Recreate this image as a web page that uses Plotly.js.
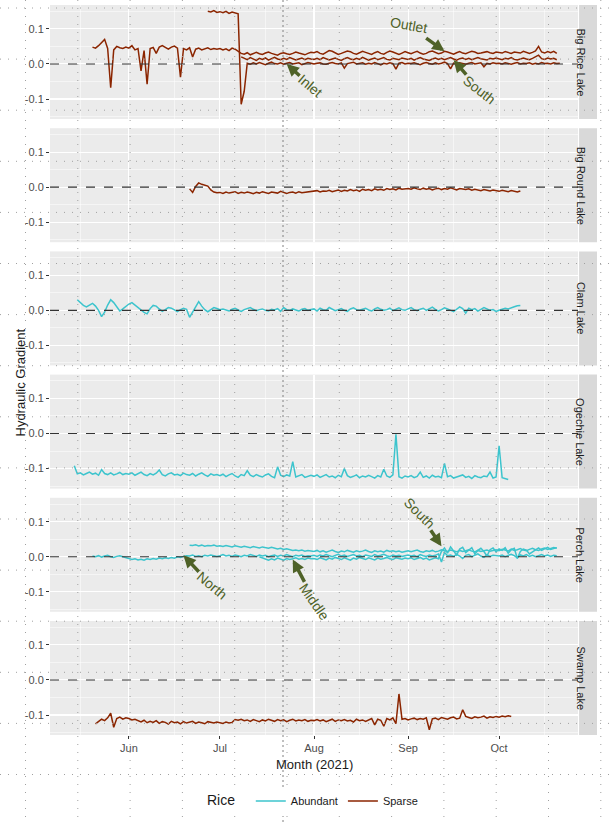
<!DOCTYPE html>
<html>
<head>
<meta charset="utf-8">
<script src="https://cdn.plot.ly/plotly-3.0.1.min.js"></script>
<style>
  html, body { margin: 0; padding: 0; background: #fff; }
  #chart { width: 610px; height: 822px; }
</style>
</head>
<body>
<div id="chart"></div>
<script>
// Lakes (facet strips, top to bottom)
let lakes = ["Big Rice Lake", "Big Round Lake", "Clam Lake", "Ogechie Lake", "Perch Lake", "Swamp Lake"];
let riceLevels = ["Abundant", "Sparse"];
let monthTicks = ["Jun", "Jul", "Aug", "Sep", "Oct"];

// Daily readings, hydraulic gradient in thousandths
// Big Rice Lake (Sparse)
let bigRiceOutletStart = "2021-05-20";
let bigRiceOutlet = [48,45,52,62,70,44,-68,40,50,46,44,48,
  45,52,40,44,-20,38,-58,44,47,30,48,52,46,42,48,51,45,-38,44,40,46,20,42,45,40,43,46,41,44,42,
  44,40,43,38,45,42,35,30,28,32,26,30,33,29,27,31,34,30,28,25,30,32,29,27,30,34,31,28,26,30,33,
  32,35,30,28,33,38,36,31,27,30,34,37,35,30,28,31,36,33,29,27,32,35,30,28,33,37,34,30,27,31,35,
  32,29,33,36,31,28,30,35,37,33,29,31,36,34,30,28,32,35,31,29,33,36,34,30,31,33,35,32,30,34,
  33,31,35,32,30,34,33,31,36,32,30,33,37,50,34,31,35,32,36,30];
let bigRiceInletStart = "2021-06-27";
let bigRiceInlet = [150,148,152,147,149,146,150,144,148,145,143,-115,-78,
  2,-1,3,0,4,1,-2,2,5,1,0,3,-1,2,4,0,1,3,-2,1,4,2,0,
  2,3,0,-1,2,4,1,0,3,-12,1,2,5,0,1,3,-1,2,0,4,1,-3,2,0,3,1,-15,2,4,0,2,
  1,3,0,-2,2,4,1,-1,3,0,2,5,1,-14,2,0,3,1,-1,2,4,0,1,3,-8,2,0,3,1,2,
  0,3,1,-1,2,4,0,2,1,3,-1,2,0,4,1,2,0,3,1,2];
let bigRiceSouthStart = "2021-07-08";
let bigRiceSouth = [20,15,12,18,14,10,16,13,17,11,15,19,14,12,16,13,18,15,11,14,17,12,16,14,
  13,16,12,18,15,11,14,17,13,10,15,18,14,12,16,13,19,15,11,14,17,12,15,18,13,11,16,14,12,17,15,
  13,16,11,15,18,14,12,10,14,17,13,16,12,15,18,14,11,15,17,13,16,12,14,18,15,13,11,16,14,17,
  15,12,16,14,18,13,11,15,17,14,12,16,20,25,15,13,17,14,16,12];

// Big Round Lake (Sparse)
let bigRoundStart = "2021-06-21";
let bigRound = [-5,-15,2,12,8,5,3,-8,-14,-16,
  -15,-18,-14,-17,-16,-13,-18,-15,-17,-14,-16,-19,-15,-17,-13,-16,-18,-14,-15,-17,-12,-16,-18,-15,-14,-17,-13,-16,-15,-14,-12,
  -13,-10,-14,-11,-12,-9,-13,-10,-8,-12,-9,-11,-7,-10,-8,-12,-6,-9,-7,-10,-5,-8,-6,-9,-4,-7,-5,-8,-3,-6,-5,
  -4,-6,-2,-5,-7,-3,-6,-4,-8,-5,-3,-7,-4,-6,-2,-5,-8,-4,-6,-7,-5,-9,-6,-8,-10,-7,-9,-11,-8,-10,
  -12,-9,-11,-13,-10,-12,-14,-11];

// Clam Lake (Abundant)
let clamStart = "2021-05-15";
let clam = [30,22,14,10,16,20,12,0,-18,-5,15,30,22,8,-2,4,12,
  18,22,15,8,2,-6,-10,5,14,12,4,-3,2,8,6,0,-4,2,6,3,-20,-5,10,25,12,2,-4,3,8,5,
  2,4,0,-2,3,6,1,-3,2,5,8,3,-1,2,4,0,-2,3,1,5,-3,8,2,0,4,1,-2,3,5,0,2,
  4,-2,6,2,0,8,3,-1,2,5,0,-3,4,7,2,0,3,6,1,-2,4,8,3,0,2,6,-1,3,7,2,0,
  4,8,2,-1,3,6,0,4,9,3,-2,2,7,4,0,-4,3,10,5,-8,6,2,5,-2,3,8,4,0,2,-3,
  0,3,6,4,8,10,13,14];

// Ogechie Lake (Abundant)
let ogechieStart = "2021-05-14";
let ogechie = [-92,-115,-112,-118,-114,-110,-116,-113,-119,-103,-114,-117,-112,-118,-115,-111,-117,-114,
  -116,-112,-119,-115,-110,-117,-120,-114,-118,-113,-104,-117,-121,-115,-112,-118,-116,-120,-113,-117,-119,-114,-121,-116,-112,-118,-122,-115,-119,-117,
  -120,-116,-123,-118,-114,-121,-125,-117,-120,-106,-119,-123,-117,-121,-124,-118,-115,-122,-126,-95,-119,-123,-118,-121,-80,-124,-120,-117,-125,-121,-119,
  -122,-118,-125,-120,-117,-124,-121,-126,-119,-123,-100,-120,-125,-122,-118,-126,-121,-124,-119,-123,-127,-120,-124,-102,-121,-125,-118,-2,-123,-127,-121,
  -124,-120,-126,-122,-110,-125,-121,-127,-119,-124,-122,-126,-85,-123,-120,-127,-124,-121,-118,-125,-122,-128,-120,-124,-126,-121,-123,-110,-127,-124,
  -35,-126,-129,-131];

// Perch Lake (Abundant)
let perchNorthStart = "2021-05-20";
let perchNorth = [2,0,3,-1,2,4,0,-2,1,3,0,-3,
  -5,-8,-6,-9,-7,-10,-6,-8,-5,-7,-4,-6,-3,-5,-2,-4,0,-2,1,3,2,5,1,3,0,4,2,5,3,1,
  3,6,2,4,1,5,3,0,4,2,6,3,1,5,2,4,0,3,5,1,4,2,6,3,0,4,2,5,1,3,2,
  4,1,5,2,6,3,0,4,7,2,5,1,3,6,2,4,0,5,3,1,6,2,4,7,3,0,5,2,4,1,3,
  5,2,4,0,6,3,1,5,2,4,8,-15,12,3,5,1,7,2,-5,4,6,0,3,8,2,-2,5,1,4,3,
  2,5,0,4,7,3,-3,5,2,6,1,4,0,3,6,2,5,1,4,3];
let perchMiddleStart = "2021-06-21";
let perchMiddle = [33,32,34,31,33,30,32,31,33,30,
  31,29,32,30,28,31,29,27,30,28,26,29,27,25,28,26,24,27,25,22,24,21,23,20,18,19,17,19,16,18,17,
  15,18,14,17,13,16,19,15,12,16,14,18,15,13,17,14,16,19,15,12,17,14,16,13,18,15,17,14,16,13,15,
  17,14,16,19,15,13,17,15,18,14,16,20,17,15,19,16,14,18,15,17,20,16,14,18,15,17,19,16,18,20,
  17,21,19,16,22,18,20,23,19,17,21,24,20,18,22,25,21,23,26,24];
let perchSouthStart = "2021-07-14";
let perchSouth = [0,-3,-8,-10,-6,-9,-4,-7,-10,-5,-8,-6,-3,-7,-5,-8,-4,-6,
  -5,-8,-3,-6,-9,-4,-7,-2,-5,-8,-3,-6,-10,-4,-7,-2,-5,-8,-3,-6,-9,-4,-7,-5,-2,-6,-8,-3,-5,-7,-4,
  -6,-3,-8,-5,-2,-7,-4,-9,-5,-3,-6,
  15,25,10,28,18,5,22,27,12,20,26,8,18,24,15,2,20,25,14,
  22,18,26,10,20,24,-5,15,22,19,8,14,20,25,18,22,27,21,24,26];

// Swamp Lake (Sparse)
let swampStart = "2021-05-21";
let swamp = [-125,-118,-112,-116,-108,-95,-135,-110,-106,-112,-108,
  -110,-114,-112,-117,-120,-115,-122,-118,-121,-116,-124,-119,-121,-126,-118,-122,-120,-125,-119,-123,-121,-118,-124,-120,-122,-125,-119,-121,-123,-120,
  -122,-124,-120,-123,-121,-113,-115,-112,-116,-114,-118,-113,-116,-119,-114,-117,-112,-115,-118,-113,-116,-114,-119,-115,-112,-117,-114,-116,-113,-118,-115,
  -116,-113,-117,-114,-119,-115,-112,-118,-114,-116,-113,-117,-115,-120,-112,-116,-114,-118,-113,-110,-128,-112,-115,-132,-110,-114,-108,-125,-40,-112,-110,
  -114,-111,-109,-113,-110,-112,-108,-142,-111,-109,-113,-107,-110,-112,-108,-106,-111,-109,-85,-104,-107,-110,-105,-108,-106,-103,-109,-105,-107,-104,
  -106,-103,-105,-102,-104];

let colors = { Abundant: "#3CC4CD", Sparse: "#8B2500" };
let olive = "#4F6228";

// series: [lake index, rice, start, values]
let series = [
  [2, "Abundant", clamStart, clam],
  [3, "Abundant", ogechieStart, ogechie],
  [4, "Abundant", perchNorthStart, perchNorth],
  [4, "Abundant", perchMiddleStart, perchMiddle],
  [4, "Abundant", perchSouthStart, perchSouth],
  [0, "Sparse", bigRiceOutletStart, bigRiceOutlet],
  [0, "Sparse", bigRiceInletStart, bigRiceInlet],
  [0, "Sparse", bigRiceSouthStart, bigRiceSouth],
  [1, "Sparse", bigRoundStart, bigRound],
  [5, "Sparse", swampStart, swamp]
];

// logger readings are daily, so build the date column from the start day
function dailyDates(start, n) {
  let out = [];
  let d0 = new Date(start + "T00:00:00Z");
  for (let i = 0; i < n; i++) {
    let d = new Date(d0.getTime() + i * 86400000);
    out.push(d.toISOString().slice(0, 10));
  }
  return out;
}

let data = [];
let seen = {};
for (let i = 0; i < series.length; i++) {
  let s = series[i];
  let n = s[0] + 1;
  data.push({
    x: dailyDates(s[2], s[3].length),
    y: s[3].map(v => v / 1000),
    type: "scatter",
    mode: "lines",
    name: s[1],
    legendgroup: s[1],
    showlegend: !seen[s[1]],
    line: { color: colors[s[1]], width: 1.5 },
    xaxis: "x" + (n == 1 ? "" : n),
    yaxis: "y" + (n == 1 ? "" : n),
    hoverinfo: "skip"
  });
  seen[s[1]] = true;
}

// page geometry (pixels)
let W = 610, H = 822;
let mL = 50, mR = 32, mT = 5, mB = 87;
let plotW = W - mL - mR, plotH = H - mT - mB;
let panelH = 114;
let gap = (plotH - 6 * panelH) / 5;

let layout = {
  width: W, height: H,
  margin: { l: mL, r: mR, t: mT, b: mB },
  paper_bgcolor: "#ffffff",
  plot_bgcolor: "#EBEBEB",
  font: { family: "Liberation Sans, Arial, sans-serif", color: "#4D4D4D", size: 11 },
  showlegend: true,
  legend: {
    orientation: "h", x: 0.5, xanchor: "center", y: (H - mB - 801) / plotH, yanchor: "middle",
    title: { text: "Rice  ", side: "left", font: { size: 14, color: "#1A1A1A" } },
    font: { size: 11, color: "#1A1A1A" },
    itemwidth: 30
  },
  shapes: [],
  annotations: []
};

for (let i = 0; i < 6; i++) {
  let n = i + 1;
  let sfx = n == 1 ? "" : n;
  let topPx = mT + i * (panelH + gap);
  let y1 = (H - mB - topPx) / plotH;
  let y0 = (H - mB - topPx - panelH) / plotH;
  layout["xaxis" + sfx] = {
    type: "date",
    domain: [0, 1],
    anchor: "y" + sfx,
    matches: n == 1 ? undefined : "x",
    range: ["2021-05-06", "2021-10-27"],
    tick0: "2021-05-01", dtick: "M1", tickformat: "%b",
    showticklabels: i == 5,
    ticks: i == 5 ? "outside" : "",
    ticklen: 3, tickcolor: "#333333",
    tickfont: { size: 11, color: "#4D4D4D" },
    showgrid: true, gridcolor: "#ffffff", gridwidth: 1.1,
    minor: { tick0: "2021-05-16", dtick: "M1", showgrid: true, gridcolor: "#ffffff", gridwidth: 0.5 },
    zeroline: false, showline: false, fixedrange: true
  };
  layout["yaxis" + sfx] = {
    domain: [y0, y1],
    anchor: "x" + sfx,
    range: [-0.157, 0.168],
    tickvals: [-0.1, 0, 0.1],
    ticktext: ["-0.1", "0.0", "0.1"],
    ticks: "outside", ticklen: 3, tickcolor: "#333333",
    tickfont: { size: 11, color: "#4D4D4D" },
    showgrid: true, gridcolor: "#ffffff", gridwidth: 1.1,
    minor: { tickvals: [-0.15, -0.05, 0.05, 0.15], showgrid: true, gridcolor: "#ffffff", gridwidth: 0.5 },
    zeroline: false, showline: false, fixedrange: true
  };
  // dashed zero line
  layout.shapes.push({
    type: "line", xref: "x" + sfx + " domain", yref: "y" + sfx,
    x0: 0, x1: 1, y0: 0, y1: 0,
    line: { color: "#333333", width: 1.1, dash: "dash" }
  });
  // facet strip on the right
  layout.shapes.push({
    type: "rect", xref: "paper", yref: "y" + sfx + " domain",
    x0: 1.002, x1: 1 + 19 / plotW, y0: 0, y1: 1,
    fillcolor: "#D9D9D9", line: { width: 0 }
  });
  layout.annotations.push({
    xref: "paper", yref: "y" + sfx + " domain",
    x: 1 + 10.5 / plotW, y: 0.5, text: lakes[i], showarrow: false,
    textangle: 90, font: { size: 11, color: "#1A1A1A" }
  });
}

// axis titles
layout.annotations.push({
  xref: "paper", yref: "paper", x: (10 - mL) / plotW, y: (H - mB - 383) / plotH,
  text: "Hydraulic Gradient", showarrow: false, textangle: -90,
  font: { size: 13, color: "#1A1A1A" }
});
layout.annotations.push({
  xref: "paper", yref: "paper", x: 0.5, y: (H - mB - 764) / plotH, yanchor: "middle",
  text: "Month (2021)", showarrow: false, font: { size: 13, color: "#1A1A1A" }
});

// site labels with arrows
let labels = [
  ["", "Outlet", "2021-09-13", 0.036, -36, -26, 10],
  ["", "Inlet", "2021-07-23", 0.0, 24, 22, 40],
  ["", "South", "2021-09-16", 0.011, 26, 30, 38],
  ["5", "North", "2021-06-19", 0.004, 28, 30, 40],
  ["5", "Middle", "2021-07-25", -0.008, 22, 42, 55],
  ["5", "South", "2021-09-12", 0.03, -22, -33, 45]
];
labels.forEach(l => {
  layout.annotations.push({
    xref: "x" + l[0], yref: "y" + l[0], x: l[2], y: l[3],
    text: l[1], showarrow: true, ax: l[4], ay: l[5], textangle: l[6],
    arrowcolor: olive, arrowwidth: 3.5, arrowhead: 2, arrowsize: 0.7,
    font: { size: 14, color: olive }
  });
});

// faint dotted guide grid that sits over the picture
for (let k = 0; k < 12; k++) {
  let px = 25.5 + 52.3 * k;
  layout.shapes.push({
    type: "line", xref: "paper", yref: "paper", layer: "above",
    x0: (px - mL) / plotW, x1: (px - mL) / plotW, y0: (H - mB) / plotH, y1: (H - mB - H) / plotH,
    line: { color: "#A0A0A0", width: 1, dash: "1px,7px" }
  });
}
for (let k = 0; k < 16; k++) {
  let py = 8 + 51.1 * k;
  layout.shapes.push({
    type: "line", xref: "paper", yref: "paper", layer: "above",
    x0: -mL / plotW, x1: (W - mL) / plotW, y0: (H - mB - py) / plotH, y1: (H - mB - py) / plotH,
    line: { color: "#A0A0A0", width: 1, dash: "1px,7px" }
  });
}
layout.shapes.push({
  type: "line", xref: "paper", yref: "paper", layer: "above",
  x0: (283 - mL) / plotW, x1: (283 - mL) / plotW, y0: (H - mB) / plotH, y1: (H - mB - H) / plotH,
  line: { color: "#808080", width: 1, dash: "2px,3px" }
});

Plotly.newPlot("chart", data, layout, { staticPlot: true, displayModeBar: false });
</script>
</body>
</html>
